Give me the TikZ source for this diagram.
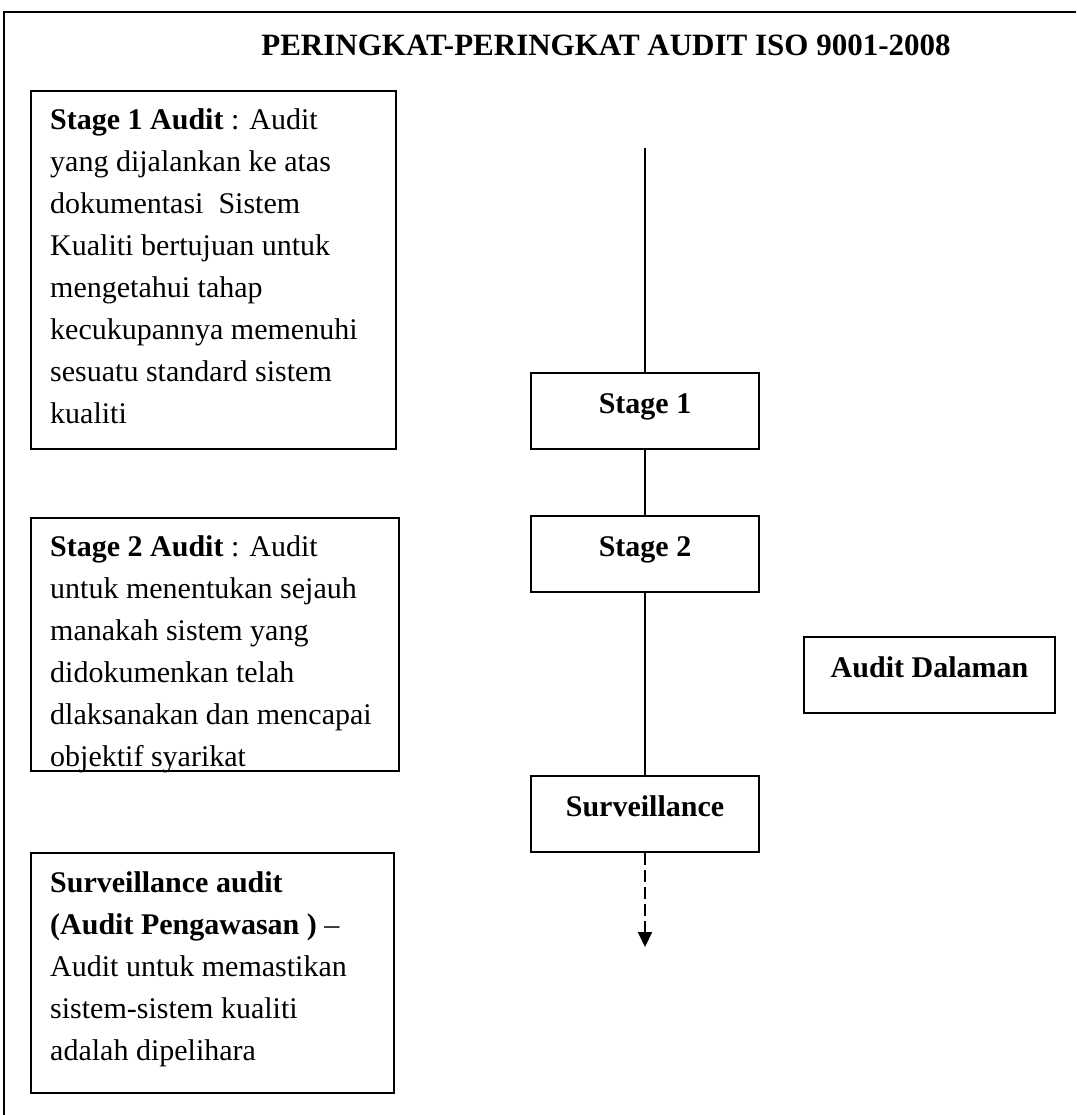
\documentclass[tikz,border=0pt]{standalone}
\usepackage{fontspec}
\setmainfont{Liberation Serif}
\usetikzlibrary{arrows.meta}
\begin{document}
\begin{tikzpicture}[x=1pt,y=-1pt,
  every node/.style={inner sep=0pt},
  body/.style={font=\fontsize{30}{42}\selectfont, align=left, anchor=north west},
  infobox/.style={draw, line width=2pt, anchor=north west},
  stagebox/.style={draw, line width=2pt, minimum width=228pt,
    text height=40pt, text depth=36pt,
    font=\fontsize{30}{36}\selectfont\bfseries},
  link/.style={line width=2pt},
]
\useasboundingbox (0,0) rectangle (1076,1115);

% outer frame (top and left edges)
\draw[link] (4,1115) -- (4,12) -- (1076,12);

% heading
\node[font=\fontsize{31}{36}\selectfont\bfseries, anchor=base] (title) at (606,56)
  {PERINGKAT-PERINGKAT AUDIT ISO 9001-2008};

% description boxes on the left
\node[infobox, minimum width=365pt, minimum height=358pt] (b1) at (30,90) {};
\node[body] (t1) at (50,99.6) {\strut\textbf{Stage 1 Audit} : Audit\\
  yang dijalankan ke atas\\
  dokumentasi\ \ Sistem\\
  Kualiti bertujuan untuk\\
  mengetahui tahap\\
  kecukupannya memenuhi\\
  sesuatu standard sistem\\
  kualiti};

\node[infobox, minimum width=368pt, minimum height=253pt] (b2) at (30,517) {};
\begin{scope}
  \clip (b2.north west) rectangle (b2.south east);
  \node[body] (t2) at (50,526.6) {\strut\textbf{Stage 2 Audit} : Audit\\
    untuk menentukan sejauh\\
    manakah sistem yang\\
    didokumenkan telah\\
    dlaksanakan dan mencapai\\
    objektif syarikat};
\end{scope}

\node[infobox, minimum width=363pt, minimum height=240pt] (b3) at (30,852) {};
\node[body] (t3) at (50,862.6) {\strut\textbf{Surveillance audit}\\
  \textbf{(Audit Pengawasan )} --\\
  Audit untuk memastikan\\
  sistem-sistem kualiti\\
  adalah dipelihara};

% audit stages
\coordinate (start) at (645,148);
\node[stagebox] (s1) at (645,411) {Stage 1};
\node[stagebox] (s2) at (645,554) {Stage 2};
\node[stagebox] (sv) at (645,814) {Surveillance};
\node[stagebox, minimum width=251pt] (ad) at (929.5,675) {Audit Dalaman};
\coordinate (next) at (645,947);

\draw[link] (start) -- (s1);
\draw[link] (s1) -- (s2);
\draw[link] (s2) -- (sv);
\draw[link, dash pattern=on 12pt off 5pt, -{Triangle[width=14pt,length=15pt]}] (sv) -- (next);
\end{tikzpicture}
\end{document}
